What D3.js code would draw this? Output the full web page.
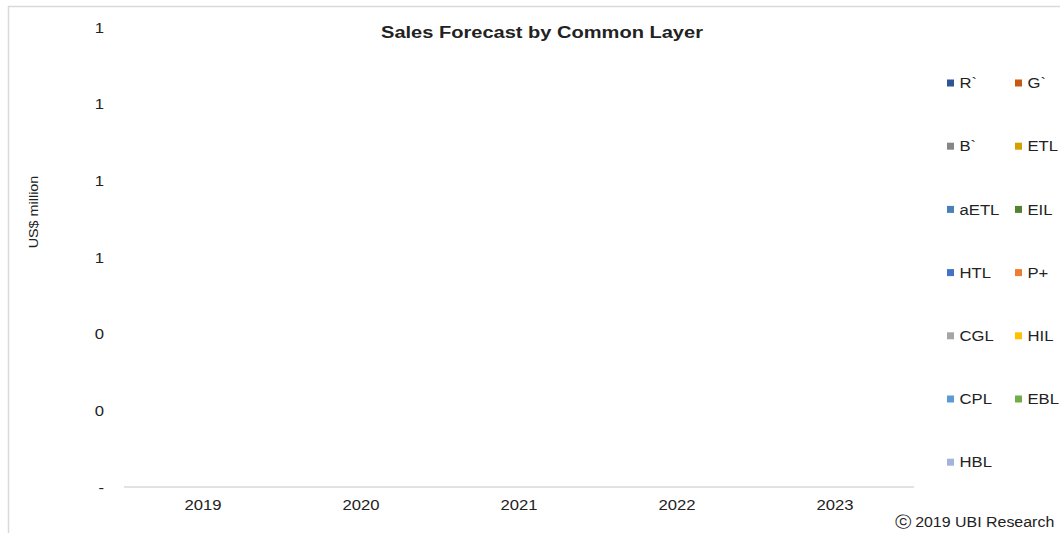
<!DOCTYPE html>
<html>
<head>
<meta charset="utf-8">
<script src="https://cdn.jsdelivr.net/npm/d3@7"></script>
<style>
  html, body { margin: 0; padding: 0; background: #fff; }
  svg { display: block; }
  text { font-family: "Liberation Sans", Arial, sans-serif; fill: #222; }
</style>
</head>
<body>
<svg id="chart" width="1060" height="533"></svg>
<script>
// ---- data ----
const years = ["2019", "2020", "2021", "2022", "2023"];
const seriesNames = ["R`", "G`", "B`", "ETL", "aETL", "EIL", "HTL", "P+", "CGL", "HIL", "CPL", "EBL", "HBL"];
const seriesColors = ["#2F5597", "#C55A11", "#868686", "#D4A000", "#4A7FB8", "#548235", "#4472C4", "#ED7D31", "#A5A5A5", "#FFC000", "#5B9BD5", "#70AD47", "#A3B4DC"];
// every series is empty (0) in every year
const valuesRt   = [0, 0, 0, 0, 0];
const valuesGt   = [0, 0, 0, 0, 0];
const valuesBt   = [0, 0, 0, 0, 0];
const valuesETL  = [0, 0, 0, 0, 0];
const valuesaETL = [0, 0, 0, 0, 0];
const valuesEIL  = [0, 0, 0, 0, 0];
const valuesHTL  = [0, 0, 0, 0, 0];
const valuesPplus= [0, 0, 0, 0, 0];
const valuesCGL  = [0, 0, 0, 0, 0];
const valuesHIL  = [0, 0, 0, 0, 0];
const valuesCPL  = [0, 0, 0, 0, 0];
const valuesEBL  = [0, 0, 0, 0, 0];
const valuesHBL  = [0, 0, 0, 0, 0];
const yTickValues = [0, 0.2, 0.4, 0.6, 0.8, 1.0, 1.2];
const yTickLabels = ["-", "0", "0", "1", "1", "1", "1"];
const chartTitle = "Sales Forecast by Common Layer";
const yAxisTitle = "US$ million";
const copyright = "ⓒ 2019 UBI Research";

const seriesValues = [valuesRt, valuesGt, valuesBt, valuesETL, valuesaETL, valuesEIL, valuesHTL, valuesPplus, valuesCGL, valuesHIL, valuesCPL, valuesEBL, valuesHBL];

// ---- build table ----
const table = years.map((y, i) => {
  const row = { year: y };
  seriesNames.forEach((s, j) => { row[s] = seriesValues[j][i]; });
  return row;
});

const svg = d3.select("#chart");
const stretch = 1.15;

// outer frame
svg.append("rect")
  .attr("x", 8.5).attr("y", 6.5).attr("width", 1100).attr("height", 600)
  .attr("fill", "none").attr("stroke", "#d9d9d9").attr("stroke-width", 1.5);

const x = d3.scaleBand().domain(years).range([124, 914]).padding(0);
const barBand = d3.scaleBand().domain(years).range([124, 914]).paddingInner(0.5).paddingOuter(0.25);
const y = d3.scaleLinear().domain([0, 1.2]).range([487, 27]);

// stacked bars (all zero height)
const stack = d3.stack().keys(seriesNames);
const stacked = stack(table);
svg.append("g").selectAll("g").data(stacked).join("g")
  .attr("fill", (d, i) => seriesColors[i])
  .selectAll("rect").data(d => d).join("rect")
  .attr("x", d => barBand(d.data.year))
  .attr("width", barBand.bandwidth())
  .attr("y", d => y(d[1]))
  .attr("height", d => y(d[0]) - y(d[1]));

function stretchedText(sel, px, py, sx) {
  return sel.attr("transform", `translate(${px},${py}) scale(${sx},1)`);
}

// y axis labels
const yAxis = d3.axisLeft(y).tickValues(yTickValues)
  .tickFormat((d, i) => yTickLabels[i]).tickSize(0).tickPadding(0);
const yg = svg.append("g").attr("transform", "translate(104,0)").call(yAxis);
yg.select(".domain").remove();
yg.selectAll("text")
  .attr("x", null).attr("dy", null).attr("y", null)
  .attr("dominant-baseline", "central")
  .style("font-family", '"Liberation Sans", Arial, sans-serif')
  .style("font-size", "14.5px").attr("fill", "#222")
  .attr("transform", `scale(${stretch},1)`);

// x axis
const xAxis = d3.axisBottom(x).tickSize(0).tickPadding(0);
const xg = svg.append("g").attr("transform", "translate(0,487)").call(xAxis);
xg.select(".domain").attr("stroke", "#d9d9d9").attr("stroke-width", 1.5).attr("d", "M124,0H914");
xg.selectAll("text")
  .attr("y", 23).attr("dy", null).attr("x", 0)
  .style("font-family", '"Liberation Sans", Arial, sans-serif')
  .style("font-size", "14.5px").attr("fill", "#222")
  .attr("transform", `scale(${stretch},1)`);

// title
stretchedText(svg.append("text"), 542, 38, 1.18)
  .attr("text-anchor", "middle")
  .style("font-size", "17px").style("font-weight", "bold")
  .text(chartTitle);

// y axis title
svg.append("text")
  .attr("transform", `translate(38,212) rotate(-90) scale(${stretch},1)`)
  .attr("text-anchor", "middle")
  .style("font-size", "12.5px").attr("fill", "#333")
  .text(yAxisTitle);

// legend
const legCols = [947, 1015];
const legRow0 = 83, legRowStep = 63.2;
const leg = svg.append("g").selectAll("g").data(seriesNames).join("g")
  .attr("transform", (d, i) => `translate(${legCols[i % 2]},${legRow0 + Math.floor(i / 2) * legRowStep})`);
leg.append("rect").attr("x", 0).attr("y", -3.5).attr("width", 7).attr("height", 7)
  .attr("fill", (d, i) => seriesColors[i]);
leg.append("text")
  .attr("transform", `translate(12.5,0) scale(${stretch},1)`)
  .attr("dominant-baseline", "central")
  .style("font-size", "14.5px")
  .text(d => d);

// copyright
stretchedText(svg.append("text"), 895, 527, 1.1)
  .style("font-size", "14.5px")
  .text(copyright);
</script>
</body>
</html>
